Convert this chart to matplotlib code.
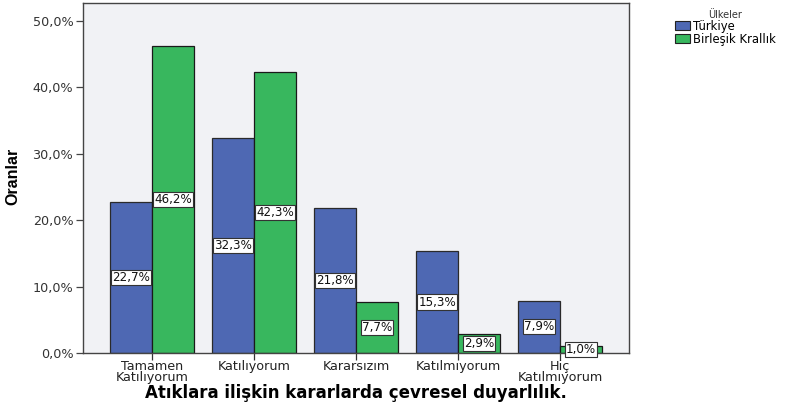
import matplotlib
matplotlib.use("Agg")
import matplotlib.pyplot as plt
import numpy as np
from matplotlib.ticker import FuncFormatter
from matplotlib.patches import Patch

# response categories and percentages per country
categories = ["Tamamen\nKatılıyorum", "Katılıyorum", "Kararsızım", "Katılmıyorum", "Hiç\nKatılmıyorum"]
turkiye = [22.7, 32.3, 21.8, 15.3, 7.9]
birlesik = [46.2, 42.3, 7.7, 2.9, 1.0]
series_names = ["Türkiye", "Birleşik Krallık"]
yticks = [0, 10, 20, 30, 40, 50]

blue = "#4E68B3"
green = "#38B75E"

fig = plt.figure(figsize=(7.85, 4.08), dpi=100)
ax = fig.add_axes([83 / 785, 1 - 353 / 408, (629 - 83) / 785, 350 / 408])
ax.set_facecolor("#F1F2F5")

x = np.arange(len(categories))
w = 0.41
b1 = ax.bar(x - w / 2, turkiye, w, color=blue, edgecolor="#2a2a2a", linewidth=0.9)
b2 = ax.bar(x + w / 2, birlesik, w, color=green, edgecolor="#1a1a1a", linewidth=0.9)

# value labels in white boxes at half bar height
def fmt(v):
    return f"{v:.1f}%".replace(".", ",")

for bars, vals in ((b1, turkiye), (b2, birlesik)):
    for rect, v in zip(bars, vals):
        ax.text(rect.get_x() + rect.get_width() / 2, v / 2, fmt(v),
                ha="center", va="center", fontsize=8.6, color="#111111",
                bbox=dict(boxstyle="square,pad=0.1", fc="white", ec="#333333", lw=0.8))

ax.set_xlim(-0.676, 4.676)
ax.set_ylim(0, 52.7)
ax.set_yticks(yticks)
ax.yaxis.set_major_formatter(FuncFormatter(lambda v, p: f"{v:.1f}%".replace(".", ",")))
ax.set_xticks(x)
ax.set_xticklabels(categories, fontsize=9.2, color="#222222")
for lbl in ax.get_xticklabels():
    lbl.set_linespacing(0.8)
ax.tick_params(axis="y", labelsize=9.2, labelcolor="#333333", length=5, width=0.9, color="#444444", pad=2)
ax.tick_params(axis="x", length=5, width=0.9, color="#333333", pad=0)
for s in ax.spines.values():
    s.set_color("#444444")
    s.set_linewidth(1.0)

ax.set_ylabel("Oranlar", family=["Liberation Sans", "DejaVu Sans"], fontweight="bold",
              fontsize=11.5, ha="center", va="center")
ax.yaxis.set_label_coords((13 - 83) / 546, (353 - 176) / 350)
ax.set_xlabel("Atıklara ilişkin kararlarda çevresel duyarlılık.", fontsize=12,
              fontweight="bold", va="center")
ax.xaxis.set_label_coords(0.5, (353 - 393) / 350)

handles = [Patch(facecolor=blue, edgecolor="#222222", lw=0.8),
           Patch(facecolor=green, edgecolor="#222222", lw=0.8)]
leg = fig.legend(handles, series_names, title="Ülkeler", loc="upper left",
                 bbox_to_anchor=(670 / 785, 1 - 5 / 408), frameon=False,
                 fontsize=8.4, title_fontsize=7, handlelength=1.3, handleheight=0.85,
                 handletextpad=0.3, labelspacing=0.0, borderaxespad=0)
leg.get_title().set_color("#333333")

fig.savefig("out.png", dpi=100)
